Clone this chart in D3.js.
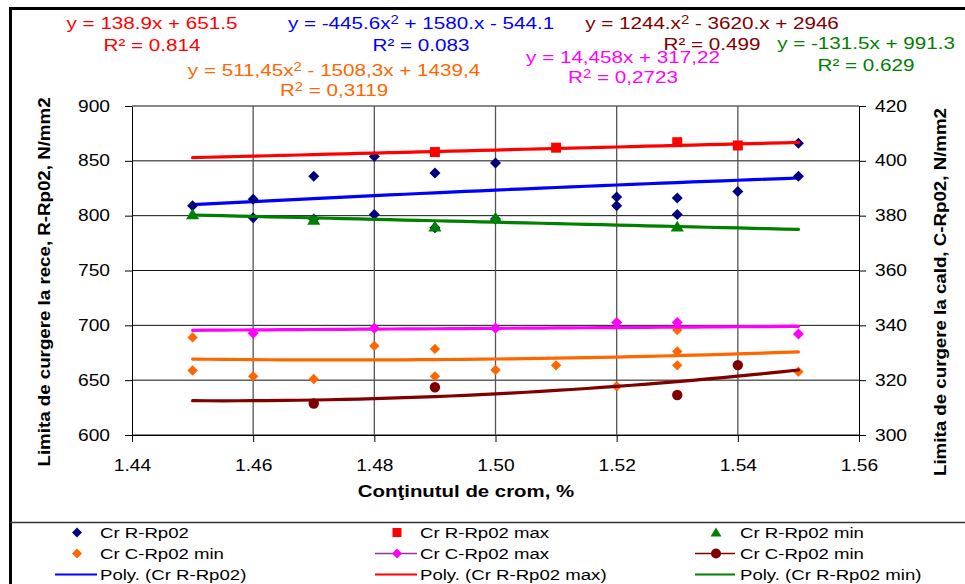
<!DOCTYPE html>
<html>
<head>
<meta charset="utf-8">
<script src="https://cdn.jsdelivr.net/npm/d3@7"></script>
<style>
  html, body { margin: 0; padding: 0; background: #fff; }
  svg { display: block; }
</style>
</head>
<body>
<svg id="chart" width="965" height="584"></svg>
<script>
// ---- axis ticks ----
const xTickValues = [1.44, 1.46, 1.48, 1.50, 1.52, 1.54, 1.56];
const leftTickValues = [600, 650, 700, 750, 800, 850, 900];
const rightTickValues = [300, 320, 340, 360, 380, 400, 420];

// ---- cold yield strength R-Rp02, N/mm2 (left axis): [Cr %, value] ----
const crR = [
  [1.45, 809], [1.46, 815], [1.46, 798], [1.47, 836], [1.47, 797],
  [1.48, 854], [1.48, 801], [1.49, 839], [1.49, 789], [1.50, 848],
  [1.50, 797], [1.52, 817], [1.52, 809], [1.53, 816], [1.53, 801],
  [1.54, 822], [1.55, 836], [1.55, 866]
];
const crRmax = [[1.49, 858], [1.51, 862], [1.53, 867], [1.54, 864]];
const crRmin = [[1.45, 801], [1.47, 796], [1.49, 790], [1.50, 798], [1.53, 790]];

// ---- hot yield strength C-Rp02, N/mm2 (right axis) ----
const crCmin = [
  [1.45, 335.6], [1.45, 323.5], [1.46, 321.4], [1.47, 320.4], [1.48, 332.5],
  [1.49, 331.4], [1.49, 321.4], [1.50, 323.7], [1.51, 325.4], [1.52, 317.8],
  [1.53, 338.3], [1.53, 330.5], [1.53, 325.4], [1.55, 323.1]
];
const crCmax = [[1.46, 337.1], [1.48, 338.9], [1.50, 338.9], [1.52, 341], [1.53, 341], [1.55, 336.8]];
const crCmin2 = [[1.47, 311.5], [1.49, 317.4], [1.53, 314.6], [1.54, 325.5]];

// ---- trend coefficients [a, b, c] for y = a*x^2 + b*x + c ----
const trendCrR = [-445.6, 1580, -544.1];
const trendCrRmax = [0, 138.9, 651.5];
const trendCrRmin = [0, -131.5, 991.3];
const trendCrCmin = [511.45, -1508.3, 1439.4];
const trendCrCmax = [0, 14.458, 317.22];
const trendCrCmin2 = [1244, -3620, 2946];
const trendRange = [1.45, 1.55];

// ---- trend equation labels: [main part, superscript, rest] ----
const eqCrRmax = [["y = 138.9x + 651.5"], ["R² = 0.814"]];
const eqCrR = [["y = -445.6x", "2", " + 1580.x - 544.1"], ["R² = 0.083"]];
const eqCrCmin = [["y = 511,45x", "2", " - 1508,3x + 1439,4"], ["R", "2", " = 0,3119"]];
const eqCrCmin2 = [["y = 1244.x", "2", " - 3620.x + 2946"], ["R² = 0.499"]];
const eqCrCmax = [["y = 14,458x + 317,22"], ["R", "2", " = 0,2723"]];
const eqCrRmin = [["y = -131.5x + 991.3"], ["R² = 0.629"]];

// ---- titles and legend labels ----
const xTitle = "Conţinutul de crom, %";
const yLeftTitle = "Limita de curgere la rece, R-Rp02, N/mm2";
const yRightTitle = "Limita de curgere la cald, C-Rp02, N/mm2";
const legendLabels = [
  ["Cr R-Rp02", "Cr R-Rp02 max", "Cr R-Rp02 min"],
  ["Cr C-Rp02 min", "Cr C-Rp02 max", "Cr C-Rp02 min"],
  ["Poly. (Cr R-Rp02)", "Poly. (Cr R-Rp02 max)", "Poly. (Cr R-Rp02 min)"]
];

// ---------------------------------------------------------------
const FONT = "'Liberation Sans', Arial, Helvetica, sans-serif";
const SX = 1.2; // horizontal stretch of all lettering

const svg = d3.select("#chart");
svg.append("rect").attr("width", 965).attr("height", 584).attr("fill", "#fff");

const x = d3.scaleLinear().domain([1.44, 1.56]).range([132, 859]);
const yL = d3.scaleLinear().domain([600, 900]).range([435, 106]);
const yR = d3.scaleLinear().domain([300, 420]).range([435, 106]);

// stretched text helper
function stext(parent, px, py, opts) {
  const rot = opts.rotate ? ` rotate(${opts.rotate})` : "";
  const g = parent.append("g")
    .attr("transform", `translate(${px},${py})${rot} scale(${opts.sx || SX},1)`);
  const t = g.append("text")
    .attr("text-anchor", opts.anchor || "start")
    .attr("font-family", FONT)
    .attr("font-size", opts.size)
    .attr("font-weight", opts.bold ? "bold" : "normal")
    .attr("fill", opts.color || "#000");
  if (opts.parts) {
    t.append("tspan").text(opts.parts[0]);
    if (opts.parts.length > 1) {
      t.append("tspan").attr("font-size", "0.72em").attr("dy", "-0.42em").text(opts.parts[1]);
      t.append("tspan").attr("dy", "0.30em").text(opts.parts[2]);
    }
  } else {
    t.text(opts.text);
  }
  return t;
}

// ---- frame ----
svg.append("line").attr("x1", 10).attr("x2", 965).attr("y1", 8.5).attr("y2", 8.5)
  .attr("stroke", "#000").attr("stroke-width", 3);
svg.append("line").attr("x1", 10.5).attr("x2", 10.5).attr("y1", 7).attr("y2", 584)
  .attr("stroke", "#000").attr("stroke-width", 3);
svg.append("line").attr("x1", 10).attr("x2", 965).attr("y1", 522.5).attr("y2", 522.5)
  .attr("stroke", "#333").attr("stroke-width", 1.3);

// ---- gridlines ----
const grid = svg.append("g");
grid.selectAll("line.h").data(leftTickValues).join("line")
  .attr("x1", x(1.44)).attr("x2", x(1.56))
  .attr("y1", d => yL(d)).attr("y2", d => yL(d))
  .attr("stroke", "#111").attr("stroke-width", 1);
grid.selectAll("line.v").data(xTickValues.slice(1, -1)).join("line")
  .attr("x1", d => x(d)).attr("x2", d => x(d))
  .attr("y1", yL(900)).attr("y2", yL(600))
  .attr("stroke", "#555").attr("stroke-width", 1.3);

// ---- axes ----
function styleAxis(g) {
  g.selectAll(".domain").attr("stroke", "#000");
  g.selectAll(".tick line").attr("stroke", "#000");
  g.selectAll(".tick text").each(function () {
    const t = d3.select(this);
    const tx = +t.attr("x") || 0;
    const ty = +t.attr("y") || 0;
    t.attr("x", 0).attr("y", 0)
      .attr("transform", `translate(${tx},${ty}) scale(${SX},1)`)
      .attr("font-family", FONT).attr("font-size", 16).attr("fill", "#000");
  });
}
svg.append("g").attr("transform", "translate(132,0)")
  .call(d3.axisLeft(yL).tickValues(leftTickValues).tickSize(7).tickSizeOuter(0).tickPadding(15))
  .call(styleAxis);
svg.append("g").attr("transform", "translate(859,0)")
  .call(d3.axisRight(yR).tickValues(rightTickValues).tickSize(7).tickSizeOuter(0).tickPadding(9))
  .call(styleAxis);
svg.append("g").attr("transform", "translate(0,435)")
  .call(d3.axisBottom(x).tickValues(xTickValues).tickFormat(d3.format(".2f"))
    .tickSize(7).tickSizeOuter(0).tickPadding(18))
  .call(styleAxis);

// ---- axis titles ----
stext(svg, 466, 497, { text: xTitle, size: 17, bold: true, anchor: "middle" });
stext(svg, 50, 282, { text: yLeftTitle, size: 15.6, bold: true, anchor: "middle", rotate: -90 });
stext(svg, 946, 292, { text: yRightTitle, size: 15.6, bold: true, anchor: "middle", rotate: -90 });

// ---- marker shapes ----
function markerPath(type, r) {
  switch (type) {
    case "diamond": return `M0,${-r}L${r},0L0,${r}L${-r},0Z`;
    case "square": return `M${-r},${-r}H${r}V${r}H${-r}Z`;
    case "triangle": return `M0,${-r}L${r * 1.1},${r * 0.8}L${-r * 1.1},${r * 0.8}Z`;
    default: return d3.arc()({ innerRadius: 0, outerRadius: r, startAngle: 0, endAngle: 2 * Math.PI });
  }
}

// ---- series: trend line first, then its markers ----
const plot = svg.append("g");
function trend(coef, yScale, color) {
  const xs = d3.range(trendRange[0], trendRange[1] + 1e-9, 0.0025);
  const line = d3.line()
    .x(d => x(d))
    .y(d => yScale(coef[0] * d * d + coef[1] * d + coef[2]));
  plot.append("path").datum(xs).attr("d", line)
    .attr("fill", "none").attr("stroke", color).attr("stroke-width", 3.2)
    .attr("stroke-linecap", "round");
}
function markers(data, yScale, type, r, color) {
  plot.append("g").selectAll("path").data(data).join("path")
    .attr("transform", d => `translate(${x(d[0])},${yScale(d[1])})`)
    .attr("d", markerPath(type, r)).attr("fill", color);
}

trend(trendCrR, yL, "#0000FF");
markers(crR, yL, "diamond", 5.5, "#000080");
trend(trendCrRmax, yL, "#FF0000");
markers(crRmax, yL, "square", 5, "#FF0000");
trend(trendCrRmin, yL, "#008000");
markers(crRmin, yL, "triangle", 6, "#008000");
trend(trendCrCmin, yR, "#FF6600");
markers(crCmin, yR, "diamond", 5.2, "#FF6600");
trend(trendCrCmax, yR, "#FF00FF");
markers(crCmax, yR, "diamond", 5.5, "#FF00FF");
trend(trendCrCmin2, yR, "#800000");
markers(crCmin2, yR, "circle", 5.2, "#800000");

// ---- trend equations ----
function equation(eq, cx, y1, y2, color) {
  stext(svg, cx, y1, { parts: eq[0], size: 17.2, anchor: "middle", color });
  stext(svg, cx, y2, { parts: eq[1], size: 17.2, anchor: "middle", color });
}
equation(eqCrRmax, 152, 29, 51, "#FF0000");
equation(eqCrR, 421, 29, 51, "#0000FF");
equation(eqCrCmin, 334, 76, 96, "#FF6600");
equation(eqCrCmin2, 712, 29, 50, "#800000");
equation(eqCrCmax, 623, 63, 83, "#FF00FF");
equation(eqCrRmin, 866, 49, 71, "#008000");

// ---- legend ----
const legCols = [{ mx: 77, lx: [55, 97], tx: 100 }, { mx: 397, lx: [375, 417], tx: 420 }, { mx: 716, lx: [695, 735], tx: 740 }];
const legRows = [538, 559, 580];
const legSym = [
  [{ m: "diamond", c: "#000080" }, { m: "square", c: "#FF0000" }, { m: "triangle", c: "#008000" }],
  [{ m: "diamond", c: "#FF6600" }, { m: "diamond", c: "#FF00FF", line: "#993399" }, { m: "circle", c: "#800000", line: "#800000" }],
  [{ line: "#0000FF", w: 2.2 }, { line: "#FF0000", w: 2.2 }, { line: "#008000", w: 2.2 }]
];
const leg = svg.append("g");
legendLabels.forEach((row, ri) => {
  row.forEach((label, ci) => {
    const col = legCols[ci], s = legSym[ri][ci], cy = legRows[ri] - 5.5;
    if (s.line) {
      leg.append("line").attr("x1", col.lx[0]).attr("x2", col.lx[1])
        .attr("y1", cy).attr("y2", cy).attr("stroke", s.line).attr("stroke-width", s.w || 1.6);
    }
    if (s.m) {
      leg.append("path").attr("transform", `translate(${col.mx},${cy})`)
        .attr("d", markerPath(s.m, s.m === "square" ? 4.5 : 5)).attr("fill", s.c);
    }
    stext(leg, col.tx, legRows[ri], { text: label, size: 15.5 });
  });
});
</script>
</body>
</html>
